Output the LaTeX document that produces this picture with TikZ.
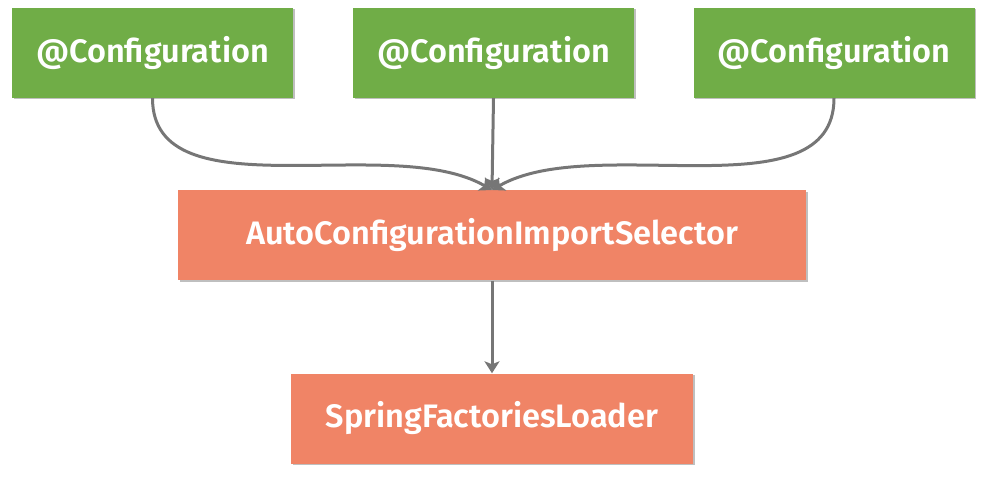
\documentclass[tikz,border=0pt]{standalone}
\usepackage{fontspec}
\setmainfont{Fira Sans}[BoldFont={Fira Sans SemiBold}]
\usetikzlibrary{arrows.meta,shadows}
\definecolor{cfggreen}{HTML}{70AD47}
\definecolor{selorange}{HTML}{F08466}
\definecolor{arrowgray}{HTML}{767676}
\begin{document}
\begin{tikzpicture}[x=1pt,y=1pt,
  box/.style={draw=none,minimum height=90pt,inner sep=0pt,text=white,
    font=\fontsize{32.5}{38}\selectfont\bfseries,
    drop shadow={shadow xshift=1.5pt,shadow yshift=-1.5pt,opacity=0.25,fill=black}},
  greenbox/.style={box,fill=cfggreen,minimum width=281pt},
  orangebox/.style={box,fill=selorange},
  conn/.style={draw=arrowgray,line width=3pt,-{Stealth[length=12pt,width=15pt,inset=3pt]}}]
\useasboundingbox (0,0) rectangle (983,-481);
\node[greenbox] (c1) at (152.5,-53) {@Configuration};
\node[greenbox] (c2) at (493.5,-53) {@Configuration};
\node[greenbox] (c3) at (834,-53) {@Configuration};
\node[orangebox,minimum width=628pt] (sel) at (492,-235.5) {AutoConfigurationImportSelector};
\node[orangebox,minimum width=402pt] (sfl) at (492,-418.5) {SpringFactoriesLoader};
\coordinate (tip) at (492,-190);
\draw[conn] (c1.south) to[out=-90,in=150,looseness=0.85] (tip);
\draw[conn] (c3.south) to[out=-90,in=30,looseness=0.85] (tip);
\draw[conn] (c2.south) -- (tip);
\draw[conn] (sel.south) -- (sfl.north);
\end{tikzpicture}
\end{document}
